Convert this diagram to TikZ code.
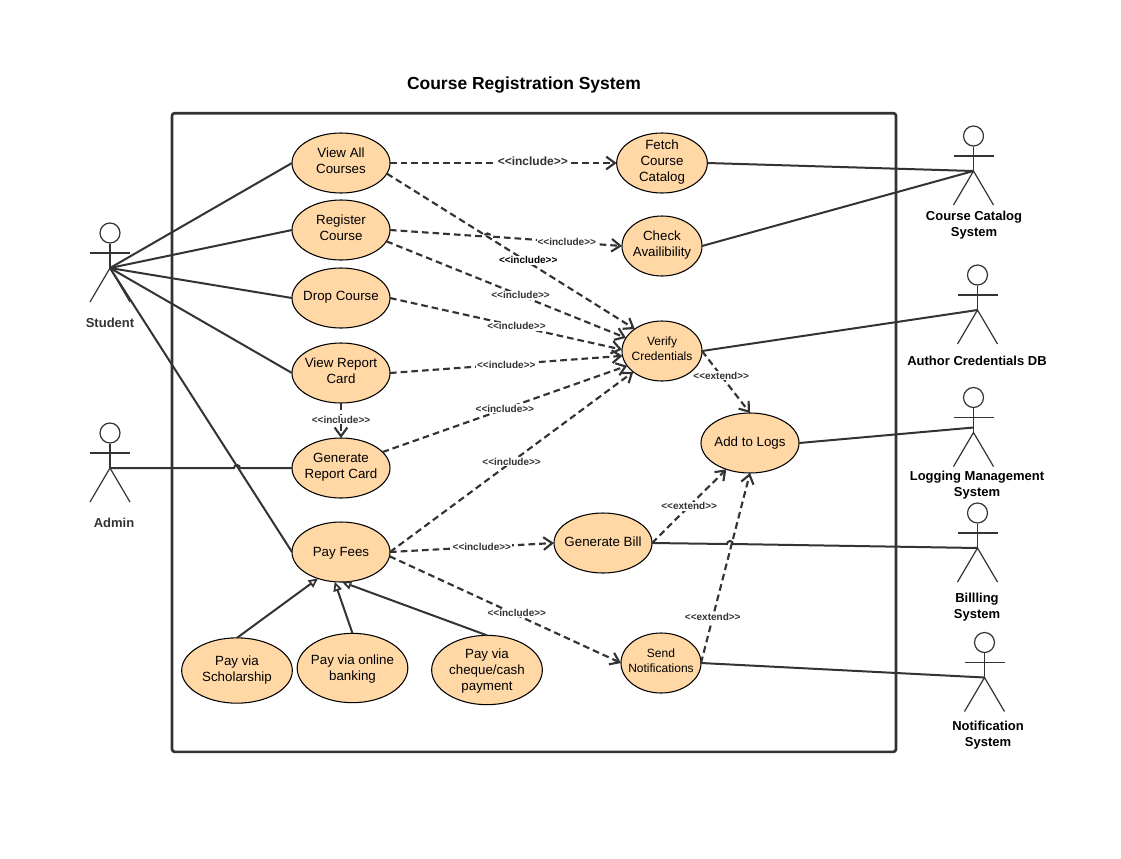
\documentclass[tikz,border=0pt]{standalone}
\usepackage{fontspec}
\setmainfont{Liberation Sans}
\usetikzlibrary{shapes.geometric}
\usetikzlibrary{arrows.meta}
\usetikzlibrary{positioning}

\definecolor{casefill}{HTML}{FFD8A6}
\definecolor{linegray}{HTML}{333333}

\tikzset{
  usecase/.style={draw=black, line width=.8pt, fill=casefill, ellipse, inner sep=-10pt, outer sep=0pt, align=center,
    minimum width=73.5pt, minimum height=45pt, text depth=3pt, font=\fontsize{10}{12}\selectfont},
  smallcase/.style={usecase, minimum width=60pt, font=\fontsize{9}{11.25}\selectfont},
  paycase/.style={usecase, minimum width=83pt, minimum height=52pt},
  conn/.style={line width=1.5pt, draw=linegray},
  dep/.style={conn, line width=1.6pt, dashed, dash pattern=on 5pt off 3pt, ->},
  gen/.style={conn, -{Triangle[open,length=7pt,width=6.5pt,line width=1.3pt,fill=white]}},
  deplbl/.style={fill=white, inner sep=.6pt, text=linegray, font=\fontsize{7.5}{9}\selectfont\bfseries},
  actorline/.style={line width=.9pt, draw=linegray},
  actorlbl/.style={align=center, inner sep=0pt, font=\fontsize{9.75}{12}\selectfont\bfseries}
}

% name, x and y of the head
\newcommand{\actor}[3]{
  \node (#1_head) [draw=linegray, line width=.9pt, circle, minimum size=15pt, inner sep=0pt] at (#2,#3) {};
  \coordinate (#1) at (#2,#3+35);
  \coordinate (#1_arml) at (#2-20,#3+20);
  \coordinate (#1_armr) at (#2+20,#3+20);
  \coordinate (#1_footl) at (#2-20,#3+69);
  \coordinate (#1_footr) at (#2+20,#3+69);
  \draw [actorline] (#1_head) -- (#1);
  \draw [actorline] (#1_arml) -- (#1_armr);
  \draw [actorline] (#1_footl) -- (#1) -- (#1_footr);
}

\begin{document}
\begin{tikzpicture}[x=.75pt, y=-.75pt, >={Straight Barb[length=6.5pt,width=9.5pt]}]
\useasboundingbox (0,0) rectangle (1121,858);

% frame
\node (title) [font=\fontsize{13.1}{15}\selectfont\bfseries] at (524,85) {Course Registration System};
\node (frame) [draw=linegray, line width=2pt, rounded corners=2pt, minimum width=543pt, minimum height=479pt, inner sep=0pt] at (534,432.5) {};

% left column
\node (viewall) [usecase] at (341,163) {View All\\Courses};
\node (register) [usecase, below=5.25pt of viewall] {Register\\Course};
\node (drop) [usecase, below=6pt of register] {Drop Course};
\node (viewreport) [usecase, below=11.25pt of drop] {View Report\\Card};
\node (genreport) [usecase, below=26.25pt of viewreport] {Generate\\Report Card};
\node (payfees) [usecase, below=18pt of genreport, text depth=0pt] {Pay Fees};

% payment kinds
\node (scholarship) [paycase, minimum height=49pt] at (237,670.5) {Pay via\\Scholarship};
\node (online) [paycase, text depth=0pt] at (352.5,668) {Pay via online\\banking};
\node (cheque) [paycase, text depth=0pt] at (487,670) {Pay via\\cheque/cash\\payment};

% right side
\node (fetch) [usecase, minimum width=68pt] at (662,163) {Fetch\\Course\\Catalog};
\node (check) [usecase, minimum width=60pt] at (662,246) {Check\\Availibility};
\node (verify) [smallcase] at (662,351) {Verify\\Credentials};
\node (logs) [usecase, text depth=2.2pt] at (750,443) {Add to Logs};
\node (bill) [usecase, text depth=2.2pt] at (603,543) {Generate Bill};
\node (send) [smallcase] at (661,663) {Send\\Notifications};

% actors
\actor{student}{110}{233}
\actor{admin}{110}{433}
\actor{catalog}{973.5}{136}
\actor{author}{977.5}{275}
\actor{logging}{973.5}{397.5}
\actor{billing}{977.5}{513}
\actor{notif}{984.5}{642.5}
\coordinate (logging_conn) at (973.5,427.5);

\node (student_lbl) [actorlbl, text=linegray] at (110,323) {Student};
\node (admin_lbl) [actorlbl, text=linegray] at (114,523) {Admin};
\node (catalog_lbl) [actorlbl] at (974,225) {Course Catalog\\System};
\node (author_lbl) [actorlbl] at (977,361) {Author Credentials DB};
\node (logging_lbl) [actorlbl] at (977,485) {Logging Management\\System};
\node (billing_lbl) [actorlbl] at (977,607) {Billling\\System};
\node (notif_lbl) [actorlbl] at (988,735.5) {Notification\\System};

% actor links
\draw [conn] (student) -- (viewall.west);
\draw [conn] (student) -- (register.west);
\draw [conn] (student) -- (drop.west);
\draw [conn] (student) -- (viewreport.west);
\draw [conn] (student) -- (payfees.west);
\draw [conn] (admin) -- (234,468) arc[start angle=180, end angle=360, radius=3] -- (genreport.west);
\draw [conn] (fetch.east) -- (catalog);
\draw [conn] (check.east) -- (catalog);
\draw [conn] (verify.east) -- (author);
\draw [conn] (logs.east) -- (logging_conn);
\draw [conn] (bill.east) -- (727,544) arc[start angle=180, end angle=360, radius=3] -- (billing);
\draw [conn] (send.east) -- (notif);

% generalisations
\draw [gen] (scholarship.north) -- (payfees.229);
\draw [gen] (online.north) -- (payfees.258);
\draw [gen] (cheque.north) -- (payfees.272);

% includes and extends
\draw [dep] (viewall.east) -- (fetch.west) node [pos=.63, yshift=1.5pt, deplbl, font=\fontsize{9}{11}\selectfont\bfseries] {<{}<include>{}>};
\draw [dep] (register.east) -- (484.5,236.5) arc[start angle=180, end angle=360, radius=3] -- (check.west) node [pos=.58, deplbl] {<{}<include>{}>};
\draw [dep] (viewall.347) -- (verify.141) node [pos=.57, yshift=1.5pt, deplbl, text=black] {<{}<include>{}>};
\draw [dep] (register.346) -- (verify.160) node [pos=.56, deplbl] {<{}<include>{}>};
\draw [dep] (drop.east) -- (verify.178) node [pos=.545, deplbl] {<{}<include>{}>};
\draw [dep] (viewreport.east) -- (verify.187) node [pos=.5, deplbl] {<{}<include>{}>};
\draw [dep] (viewreport.south) -- (genreport.north) node [midway, yshift=.8pt, deplbl] {<{}<include>{}>};
\draw [dep] (genreport.21) -- (verify.203) node [pos=.5, deplbl] {<{}<include>{}>};
\draw [dep] (payfees.east) -- (verify.216) node [pos=.5, deplbl] {<{}<include>{}>};
\draw [dep] (payfees.east) -- (bill.west) node [pos=.56, deplbl] {<{}<include>{}>};
\draw [dep] (payfees.355) -- (send.west) node [pos=.55, yshift=1.5pt, deplbl] {<{}<include>{}>};
\draw [dep] (verify.east) -- (logs.north) node [pos=.4, deplbl] {<{}<extend>{}>};
\draw [dep] (bill.east) -- (logs.228) node [pos=.5, deplbl] {<{}<extend>{}>};
\draw [dep] (send.east) -- (logs.south) node [pos=.24, deplbl] {<{}<extend>{}>};
\end{tikzpicture}
\end{document}
